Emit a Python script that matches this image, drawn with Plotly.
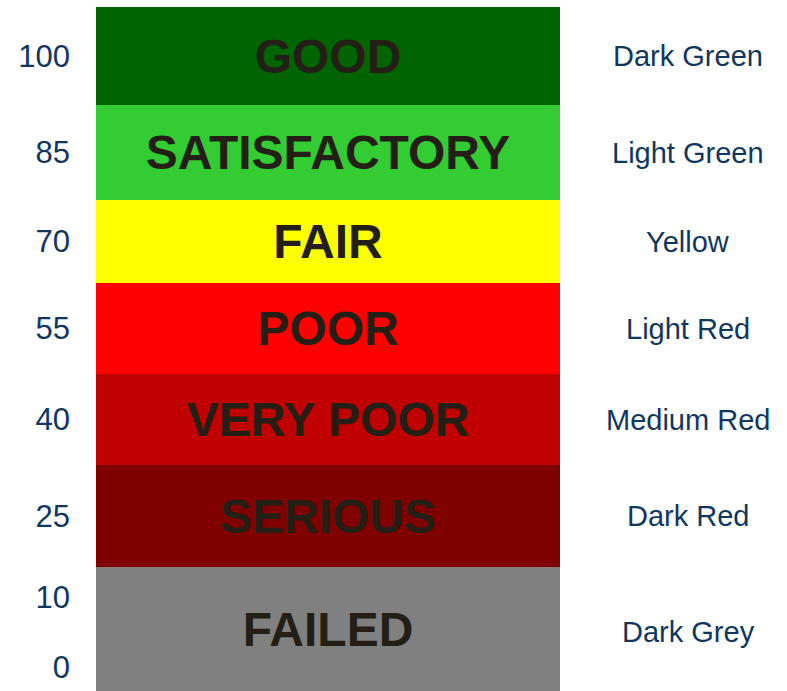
import plotly.graph_objects as go

# Bands listed bottom to top
ratings = ["FAILED", "SERIOUS", "VERY POOR", "POOR", "FAIR", "SATISFACTORY", "GOOD"]
band_heights = [124, 102, 91, 91, 83, 95, 98]  # visual band heights
colours = ["#808080", "#800000", "#C00000", "#FF0000", "#FFFF00", "#33CC33", "#006400"]
colour_names = ["Dark Grey", "Dark Red", "Medium Red", "Light Red", "Yellow", "Light Green", "Dark Green"]
pci_labels = ["25", "40", "55", "70", "85", "100"]          # at centres of SERIOUS..GOOD
failed_labels = ["0", "10"]                                 # inside the FAILED band

TEXT_DARK = "#231F16"
SIDE_BLUE = "#10375F"
FONT = "Liberation Sans, Arial, sans-serif"

fig = go.Figure()
bottoms = []
acc = 0
for name, h, c in zip(ratings, band_heights, colours):
    bottoms.append(acc)
    fig.add_trace(go.Bar(
        x=["PCI"], y=[h], name=name, marker=dict(color=c, line=dict(width=0)),
        text=[f"<b>{name}</b>"], textposition="inside", insidetextanchor="middle",
        textangle=0, textfont=dict(family=FONT, size=48, color=TEXT_DARK),
        hoverinfo="name", showlegend=False,
    ))
    acc += h
total = acc
centres = [b + h / 2 for b, h in zip(bottoms, band_heights)]

# left tick positions
failed_h = band_heights[0]
tickvals = [failed_h * 0.19, failed_h * 0.76] + centres[1:]
ticktext = failed_labels + pci_labels

# right-hand colour names
for i, (cname, cy) in enumerate(zip(colour_names, centres)):
    fig.add_annotation(
        x=1.276, xref="paper", y=cy - (3 if i == 0 else 0), yref="y",
        text=cname, showarrow=False, xanchor="center", yanchor="middle",
        font=dict(family=FONT, size=29, color=SIDE_BLUE),
    )

fig.update_layout(
    width=787, height=691,
    margin=dict(l=96, r=227, t=7, b=0),
    barmode="stack", bargap=0,
    plot_bgcolor="white", paper_bgcolor="white",
    xaxis=dict(visible=False, range=[-0.5, 0.5]),
    yaxis=dict(
        range=[0, total], tickvals=tickvals, ticktext=ticktext,
        showgrid=False, zeroline=False, showline=False,
        ticks="", ticklabelstandoff=25,
        tickfont=dict(family=FONT, size=31, color=SIDE_BLUE),
        fixedrange=True,
    ),
)

fig.write_html("out.html", config={"displayModeBar": False},
               post_script="document.body.style.margin='0';")
